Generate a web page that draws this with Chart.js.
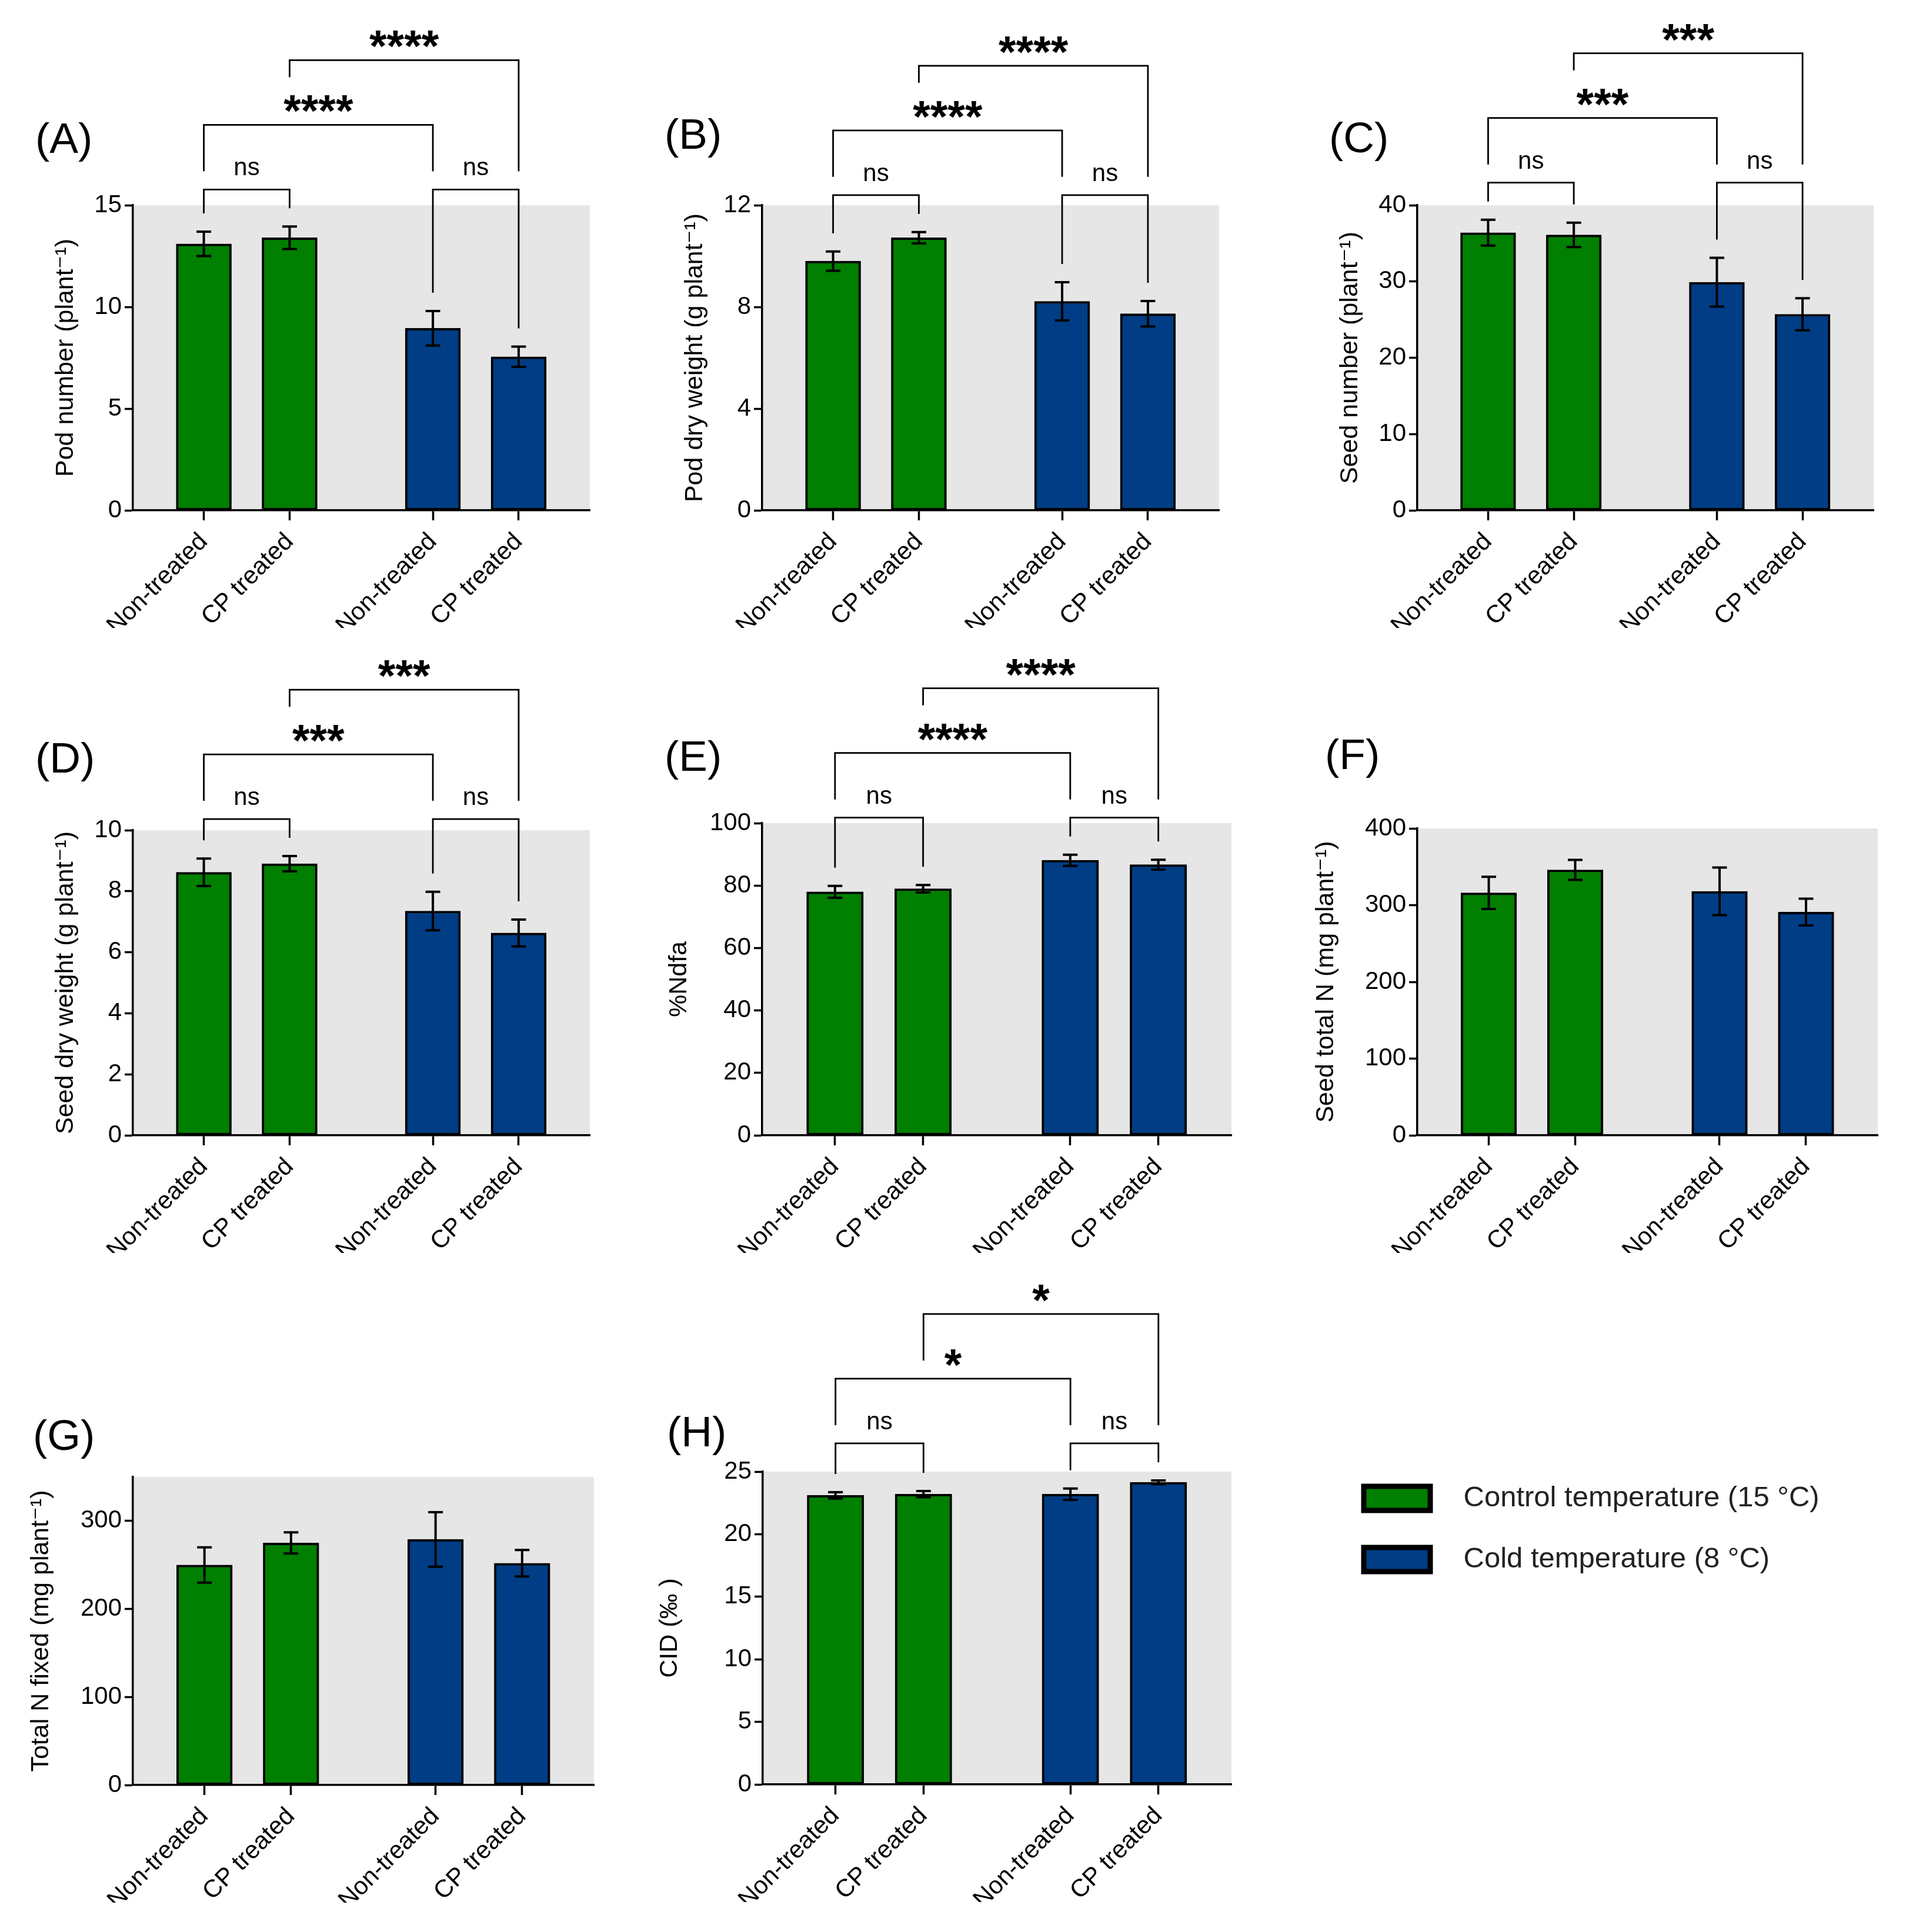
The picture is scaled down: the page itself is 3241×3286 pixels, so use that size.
<!DOCTYPE html>
<html><head><meta charset="utf-8">
<script src="https://cdn.jsdelivr.net/npm/chart.js@4.4.1/dist/chart.umd.min.js"></script>
<style>
html,body{margin:0;padding:0;background:#fff;}
#wrap{position:relative;width:3241px;height:3286px;background:#fff;overflow:hidden;}
#wrap canvas{position:absolute;}
</style></head><body><div id="wrap"></div>
<script>
// ---------------- data ----------------
const TREATMENTS = ['Non-treated', 'CP treated', 'Non-treated', 'CP treated'];
const TEMPERATURES = ['Control temperature (15 °C)', 'Cold temperature (8 °C)'];
const BAR_TEMPERATURE = [0, 0, 1, 1];

const POD_NUMBER = [13.1, 13.4, 8.95, 7.55];
const POD_NUMBER_SEM = [0.6, 0.55, 0.85, 0.5];
const POD_DRY_WEIGHT = [9.8, 10.72, 8.22, 7.73];
const POD_DRY_WEIGHT_SEM = [0.38, 0.22, 0.75, 0.5];
const SEED_NUMBER = [36.4, 36.1, 29.9, 25.7];
const SEED_NUMBER_SEM = [1.7, 1.6, 3.2, 2.1];
const SEED_DRY_WEIGHT = [8.62, 8.9, 7.35, 6.63];
const SEED_DRY_WEIGHT_SEM = [0.45, 0.25, 0.63, 0.44];
const NDFA = [78, 79, 88.1, 86.7];
const NDFA_SEM = [1.9, 1.2, 1.8, 1.6];
const SEED_TOTAL_N = [316, 346, 318, 291];
const SEED_TOTAL_N_SEM = [21, 13, 31, 17.5];
const TOTAL_N_FIXED = [250, 275, 279, 252];
const TOTAL_N_FIXED_SEM = [20, 12, 31, 15];
const CID = [23.1, 23.2, 23.2, 24.15];
const CID_SEM = [0.25, 0.25, 0.45, 0.15];

const TICKS_A = [0, 5, 10, 15];
const TICKS_B = [0, 4, 8, 12];
const TICKS_C = [0, 10, 20, 30, 40];
const TICKS_D = [0, 2, 4, 6, 8, 10];
const TICKS_E = [0, 20, 40, 60, 80, 100];
const TICKS_F = [0, 100, 200, 300, 400];
const TICKS_G = [0, 100, 200, 300];
const TICKS_H = [0, 5, 10, 15, 20, 25];

// comparisons: [bar i, bar j, label, level]
const SIG_A = [[0, 1, 'ns', 0], [2, 3, 'ns', 0], [0, 2, '****', 1], [1, 3, '****', 2]];
const SIG_B = [[0, 1, 'ns', 0], [2, 3, 'ns', 0], [0, 2, '****', 1], [1, 3, '****', 2]];
const SIG_C = [[0, 1, 'ns', 0], [2, 3, 'ns', 0], [0, 2, '***', 1], [1, 3, '***', 2]];
const SIG_D = [[0, 1, 'ns', 0], [2, 3, 'ns', 0], [0, 2, '***', 1], [1, 3, '***', 2]];
const SIG_E = [[0, 1, 'ns', 0], [2, 3, 'ns', 0], [0, 2, '****', 1], [1, 3, '****', 2]];
const SIG_H = [[0, 1, 'ns', 0], [2, 3, 'ns', 0], [0, 2, '*', 1], [1, 3, '*', 2]];

// ---------------- style / layout ----------------
const FONT = '"Liberation Sans", "DejaVu Sans", Arial, sans-serif';
const COLORS = ['#007f00', '#003d85'];
const PLOT_BG = '#e6e6e6';
Chart.defaults.font.family = FONT;
Chart.defaults.color = '#000';

const GROUP_STEP = 2.67, X_MIN = -0.8267, X_MAX = 4.5, BAR_UNITS = 0.644;
const YW = 200, XH = 200;
const ROW_TOP = [0, 1080, 2160], ROW_H = [1100, 1100, 1126];

const PANELS = [
  {id: '(A)', title: 'Pod number (plant⁻¹)', values: POD_NUMBER, errors: POD_NUMBER_SEM, ticks: TICKS_A, max: 15, sig: SIG_A,
   box: {L: 226, T: 349, R: 1003, B: 868}, row: 0, titleOffset: 114, labelPos: [60, 240]},
  {id: '(B)', title: 'Pod dry weight (g plant⁻¹)', values: POD_DRY_WEIGHT, errors: POD_DRY_WEIGHT_SEM, ticks: TICKS_B, max: 12, sig: SIG_B,
   box: {L: 1296, T: 349, R: 2073, B: 868}, row: 0, titleOffset: 114, labelPos: [1130, 233]},
  {id: '(C)', title: 'Seed number (plant⁻¹)', values: SEED_NUMBER, errors: SEED_NUMBER_SEM, ticks: TICKS_C, max: 40, sig: SIG_C,
   box: {L: 2410, T: 349, R: 3186, B: 868}, row: 0, titleOffset: 114, labelPos: [2260, 239]},
  {id: '(D)', title: 'Seed dry weight (g plant⁻¹)', values: SEED_DRY_WEIGHT, errors: SEED_DRY_WEIGHT_SEM, ticks: TICKS_D, max: 10, sig: SIG_D,
   box: {L: 226, T: 1412, R: 1003, B: 1931}, row: 1, titleOffset: 114, labelPos: [60, 1294]},
  {id: '(E)', title: '%Ndfa', values: NDFA, errors: NDFA_SEM, ticks: TICKS_E, max: 100, sig: SIG_E,
   box: {L: 1296, T: 1400, R: 2094, B: 1931}, row: 1, titleOffset: 141, labelPos: [1130, 1291]},
  {id: '(F)', title: 'Seed total N (mg plant⁻¹)', values: SEED_TOTAL_N, errors: SEED_TOTAL_N_SEM, ticks: TICKS_F, max: 400, sig: [],
   box: {L: 2410, T: 1409, R: 3193, B: 1931}, row: 1, titleOffset: 155, labelPos: [2253, 1288]},
  {id: '(G)', title: 'Total N fixed (mg plant⁻¹)', values: TOTAL_N_FIXED, errors: TOTAL_N_FIXED_SEM, ticks: TICKS_G, max: 350, sig: [],
   box: {L: 226, T: 2512, R: 1010, B: 3036}, row: 2, titleOffset: 156, labelPos: [56, 2446]},
  {id: '(H)', title: 'CID (‰ )', values: CID, errors: CID_SEM, ticks: TICKS_H, max: 25, sig: SIG_H,
   box: {L: 1297, T: 2503, R: 2094, B: 3035}, row: 2, titleOffset: 158, labelPos: [1134, 2440]},
];

const wrap = document.getElementById('wrap');
function addCanvas(x, y, w, h) {
  const c = document.createElement('canvas');
  c.width = w; c.height = h;
  c.style.left = x + 'px'; c.style.top = y + 'px';
  c.style.width = w + 'px'; c.style.height = h + 'px';
  wrap.appendChild(c);
  return c;
}

function makePanel(p) {
  const rowTop = ROW_TOP[p.row], rowH = ROW_H[p.row];
  const x0 = p.box.L - 226;
  const w = p.box.R - x0 + 40;
  const canvas = addCanvas(x0, rowTop, w, rowH);
  const xs = TREATMENTS.map((_, i) => (i % 2) + Math.floor(i / 2) * GROUP_STEP);
  const unit = (p.box.R - p.box.L) / (X_MAX - X_MIN);

  const bgPlugin = {
    id: 'bg' + p.id,
    beforeDraw(chart) {
      const a = chart.chartArea, ctx = chart.ctx;
      ctx.save(); ctx.fillStyle = PLOT_BG;
      ctx.fillRect(a.left, a.top, a.right - a.left, a.bottom - a.top);
      ctx.restore();
    }
  };
  const errPlugin = {
    id: 'err' + p.id,
    afterDatasetsDraw(chart) {
      const meta = chart.getDatasetMeta(0), ys = chart.scales.y, ctx = chart.ctx;
      ctx.save(); ctx.strokeStyle = '#000'; ctx.lineWidth = 4;
      meta.data.forEach((bar, i) => {
        const yt = ys.getPixelForValue(p.values[i] + p.errors[i]);
        const yb = ys.getPixelForValue(p.values[i] - p.errors[i]);
        ctx.beginPath();
        ctx.moveTo(bar.x, yt); ctx.lineTo(bar.x, yb);
        ctx.moveTo(bar.x - 12.5, yt); ctx.lineTo(bar.x + 12.5, yt);
        ctx.moveTo(bar.x - 12.5, yb); ctx.lineTo(bar.x + 12.5, yb);
        ctx.stroke();
      });
      ctx.restore();
    }
  };
  const sigPlugin = {
    id: 'sig' + p.id,
    afterDraw(chart) {
      const meta = chart.getDatasetMeta(0), ys = chart.scales.y, ctx = chart.ctx;
      ctx.save();
      ctx.fillStyle = '#000';
      ctx.font = '73px ' + FONT;
      ctx.textAlign = 'left'; ctx.textBaseline = 'middle';
      ctx.fillText(p.id, p.labelPos[0] - x0, p.labelPos[1] - rowTop);
      if (!p.sig.length) { ctx.restore(); return; }
      const tops = meta.data.map((b, i) => ys.getPixelForValue(p.values[i] + p.errors[i]));
      const base = Math.min(...tops) - 63;
      const drawn = [];
      const sorted = p.sig.slice().sort((a, b) => a[3] - b[3]);
      ctx.strokeStyle = '#000'; ctx.lineWidth = 2.8; ctx.lineJoin = 'miter';
      ctx.textAlign = 'center'; ctx.textBaseline = 'alphabetic';
      sorted.forEach(([i, j, label, lvl]) => {
        const yl = base - 110 * lvl;
        const xi = meta.data[i].x, xj = meta.data[j].x;
        const star = label.indexOf('*') >= 0;
        ctx.font = star ? ('bold 76px ' + FONT) : ('42px ' + FONT);
        const m = ctx.measureText(label);
        const asc = m.actualBoundingBoxAscent, desc = m.actualBoundingBoxDescent;
        const glyphBottom = yl - (star ? 21 : 24);
        const baseline = glyphBottom - desc;
        const textTop = glyphBottom - (asc + desc);
        const tcx = (xi + xj) / 2;
        const legEnd = (x, k) => {
          let o = tops[k];
          drawn.forEach(d => {
            if (x >= d.x1 - 1 && x <= d.x2 + 1) o = Math.min(o, d.y);
            if (x >= d.tx1 - 20 && x <= d.tx2 + 20) o = Math.min(o, d.ttop);
          });
          return o - 31;
        };
        ctx.beginPath();
        ctx.moveTo(xi, legEnd(xi, i));
        ctx.lineTo(xi, yl); ctx.lineTo(xj, yl);
        ctx.lineTo(xj, legEnd(xj, j));
        ctx.stroke();
        ctx.fillText(label, tcx, baseline);
        drawn.push({x1: xi, x2: xj, y: yl, tx1: tcx - m.width / 2, tx2: tcx + m.width / 2, ttop: textTop});
      });
      ctx.restore();
    }
  };

  new Chart(canvas, {
    type: 'bar',
    data: {
      datasets: [{
        data: p.values.map((v, i) => ({x: xs[i], y: v})),
        backgroundColor: BAR_TEMPERATURE.map(g => COLORS[g]),
        borderColor: '#000',
        borderWidth: 4,
        borderSkipped: false,
        barThickness: unit * BAR_UNITS
      }]
    },
    options: {
      responsive: false,
      animation: false,
      devicePixelRatio: 1,
      layout: {padding: {left: 226 - YW, top: p.box.T - rowTop, right: 40, bottom: rowTop + rowH - p.box.B - XH}},
      plugins: {legend: {display: false}, tooltip: {enabled: false}},
      scales: {
        x: {
          type: 'linear', min: X_MIN, max: X_MAX, offset: false,
          afterBuildTicks: s => { s.ticks = xs.map(v => ({value: v})); },
          afterFit: s => { s.height = XH; },
          ticks: {autoSkip: false, minRotation: 45, maxRotation: 45, padding: 12, font: {size: 42}, color: '#000',
                  callback: (v, i) => TREATMENTS[i]},
          grid: {drawOnChartArea: false, drawTicks: true, tickLength: 17, tickWidth: 3.5, tickColor: '#000', offset: false},
          border: {display: true, color: '#000', width: 3.5}
        },
        y: {
          min: 0, max: p.max,
          afterBuildTicks: s => { s.ticks = p.ticks.map(v => ({value: v})); },
          afterFit: s => { s.width = YW; },
          ticks: {padding: 5, font: {size: 42}, color: '#000'},
          grid: {drawOnChartArea: false, drawTicks: true, tickLength: 14, tickWidth: 3.5, tickColor: '#000'},
          border: {display: true, color: '#000', width: 3.5},
          title: {display: true, text: p.title, color: '#000', font: {size: 43},
                  padding: {top: YW - p.titleOffset - 43 * 1.2 / 2, bottom: 0}}
        }
      }
    },
    plugins: [bgPlugin, errPlugin, sigPlugin]
  });
}
PANELS.forEach(makePanel);

// ---------------- legend ----------------
const LEG_FONT = 49;             // legend text size
const SWATCH_W = 113, SWATCH_H = 41, SWATCH_LW = 9;
const LEG_ROW = 104;             // distance between legend rows
const LEG_BOX_W = 145;           // swatch slot so that text starts where the reference has it
const legItemH = Math.max(LEG_FONT, SWATCH_H);
const legPad = LEG_ROW - legItemH;
const legCanvas = addCanvas(2318.5 - legPad, 2523.5 - legPad, 900, 600);
const swatchPlugin = {
  id: 'swatches',
  afterDraw(chart) {
    const lg = chart.legend, ctx = chart.ctx;
    if (!lg || !lg.legendHitBoxes) return;
    ctx.save();
    lg.legendHitBoxes.forEach((hb, k) => {
      const cy = hb.top + hb.height / 2;
      ctx.beginPath();
      ctx.rect(hb.left, cy - SWATCH_H / 2, SWATCH_W, SWATCH_H);
      ctx.fillStyle = COLORS[k]; ctx.fill();
      ctx.lineWidth = SWATCH_LW; ctx.strokeStyle = '#000'; ctx.stroke();
    });
    ctx.restore();
  }
};
new Chart(legCanvas, {
  type: 'bar',
  data: {
    labels: [],
    datasets: TEMPERATURES.map((t, k) => ({label: t, data: [], backgroundColor: COLORS[k], borderColor: '#000', borderWidth: SWATCH_LW}))
  },
  options: {
    responsive: false, animation: false, devicePixelRatio: 1,
    layout: {padding: 0},
    scales: {x: {display: false}, y: {display: false}},
    plugins: {
      tooltip: {enabled: false},
      legend: {
        display: true, position: 'top', align: 'start',
        labels: {
          boxWidth: LEG_BOX_W, boxHeight: SWATCH_H, padding: legPad, color: '#222',
          font: {family: FONT, size: LEG_FONT},
          generateLabels: chart => Chart.defaults.plugins.legend.labels.generateLabels(chart).map(it =>
            Object.assign(it, {fillStyle: 'rgba(0,0,0,0)', strokeStyle: 'rgba(0,0,0,0)', lineWidth: 0}))
        }
      }
    }
  },
  plugins: [swatchPlugin]
});
</script></body></html>
